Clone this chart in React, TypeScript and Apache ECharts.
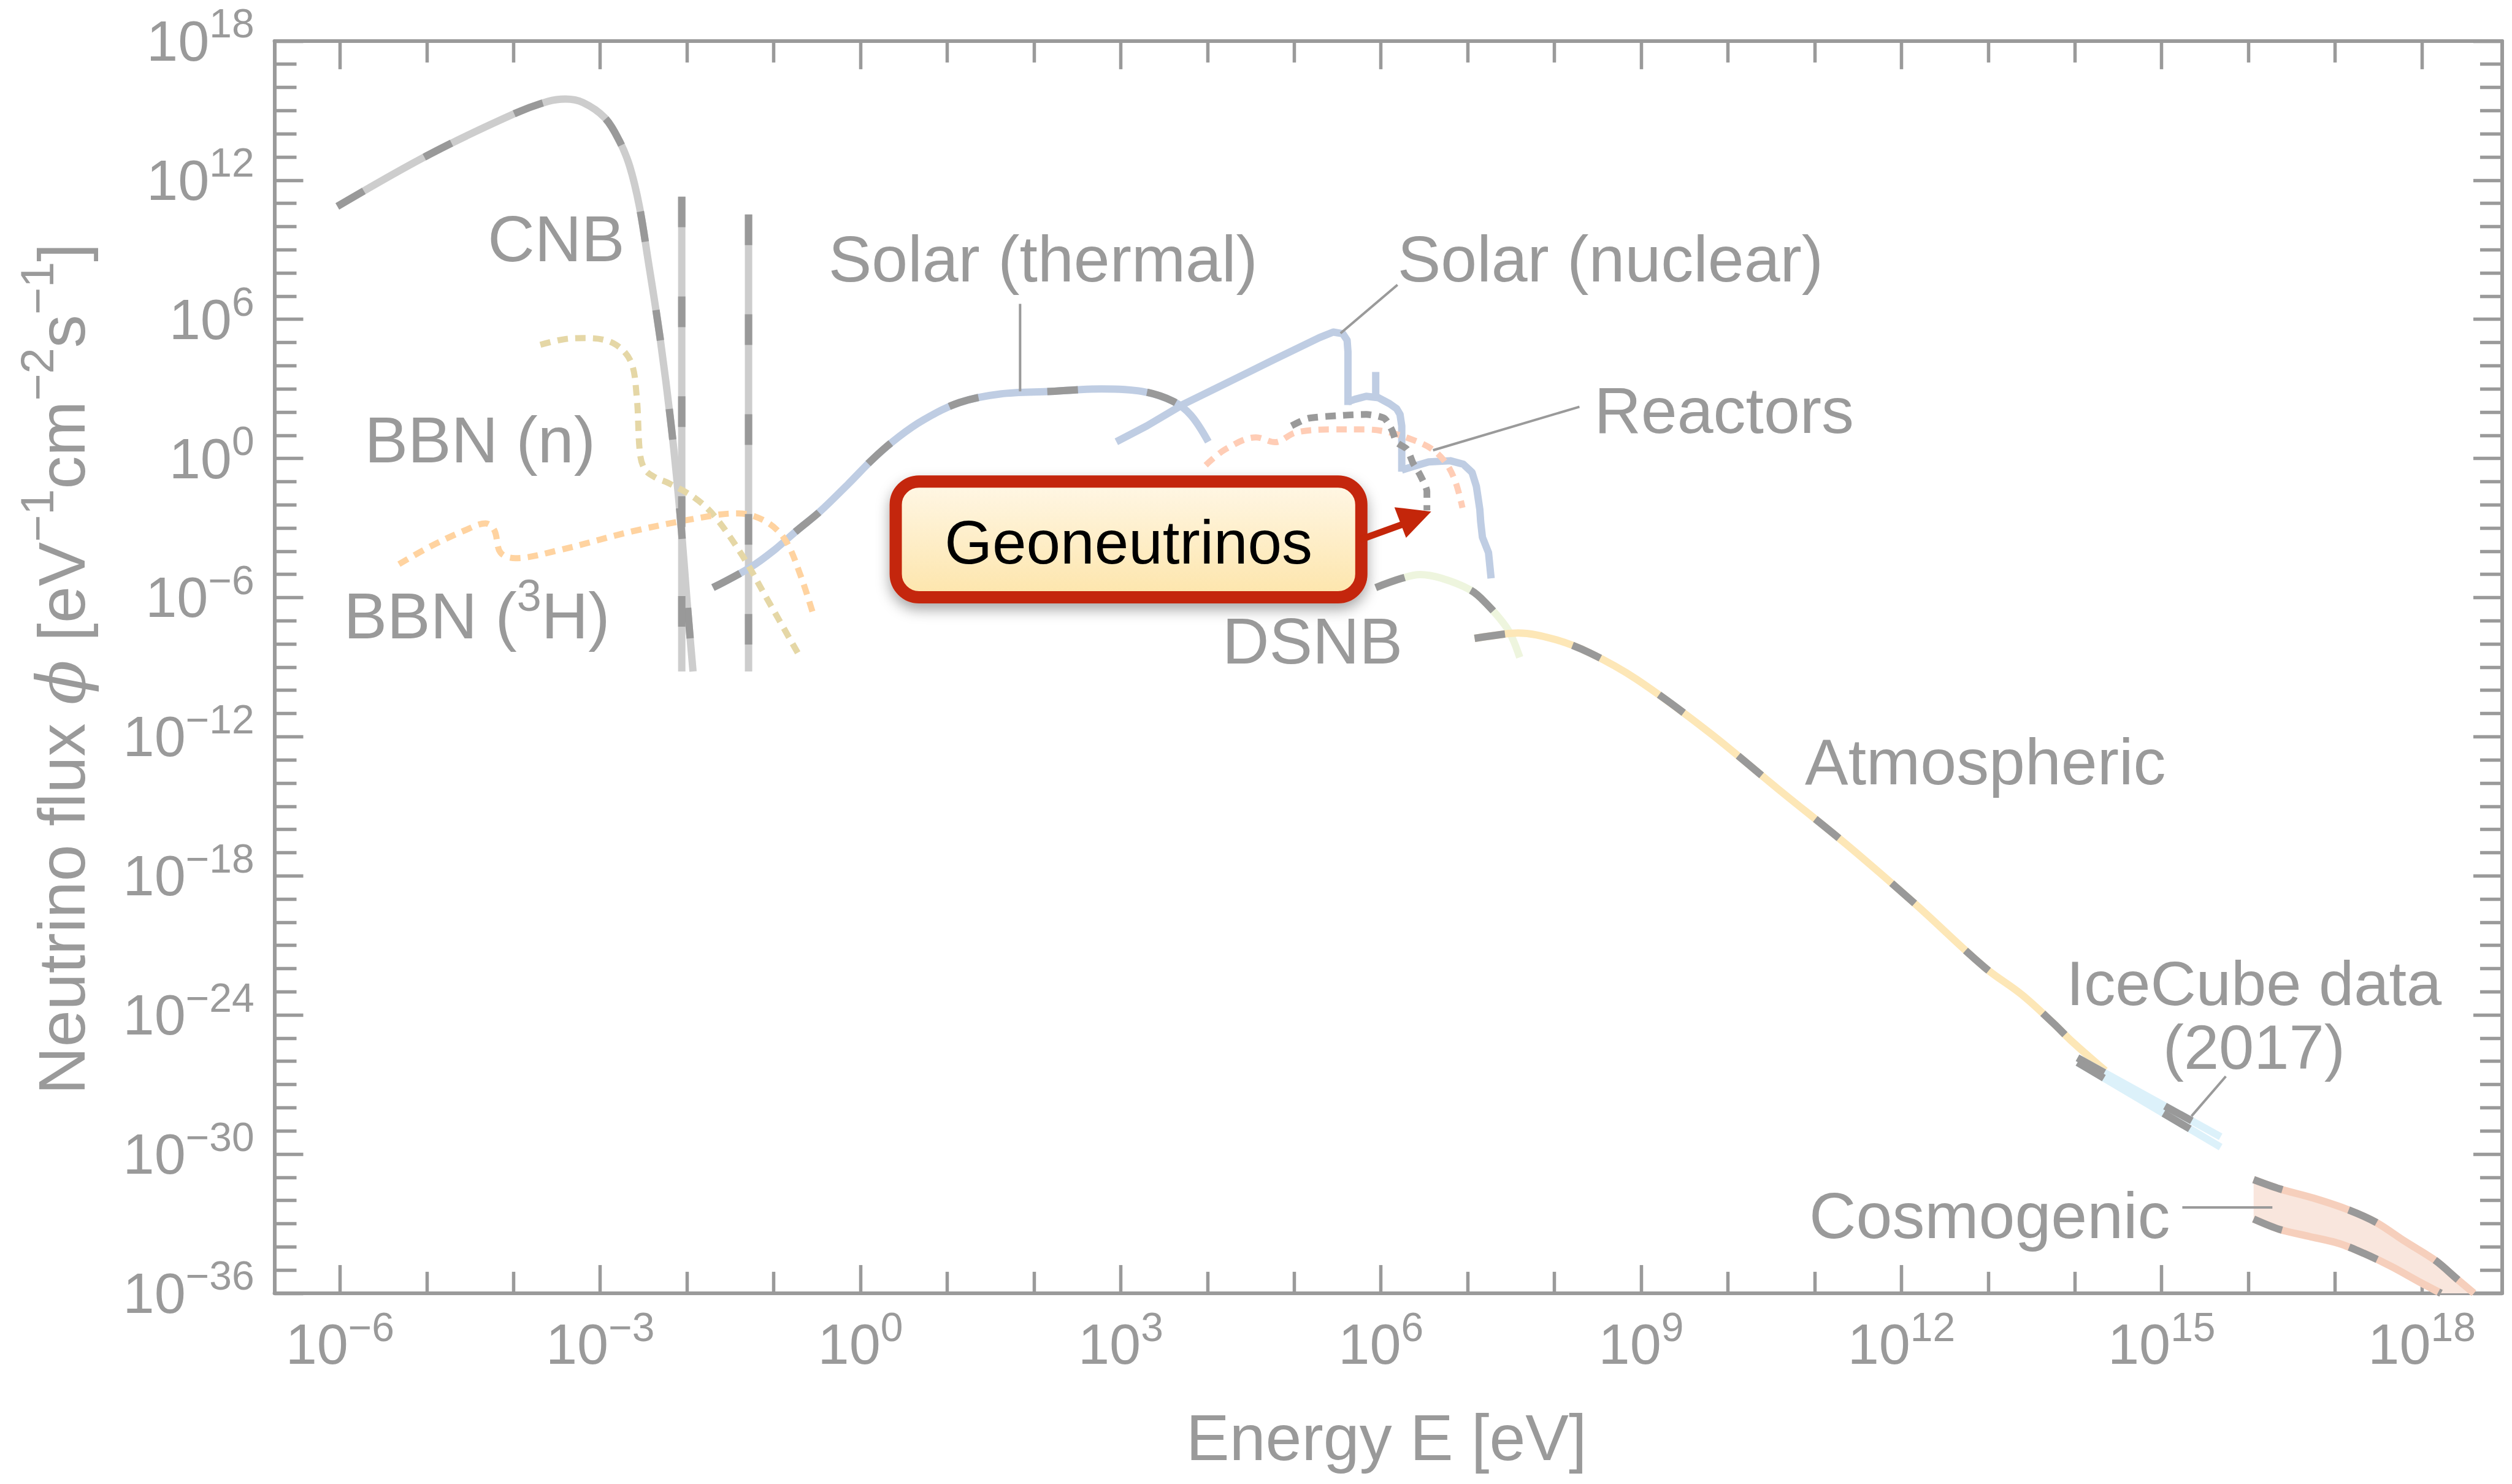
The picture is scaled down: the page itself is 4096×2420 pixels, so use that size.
import React, { useEffect, useRef } from "react";
import * as echarts from "echarts";

const S = 0.999;
const px = (v: number) => v * S;

const GRAY = "#9a9a9a";
const FONT = "'Liberation Sans', Arial, Helvetica, sans-serif";

// ---- axes (values are log10 of energy [eV] and log10 of flux) ----
const X_MIN = -6.755;
const X_MAX = 18.925;
const Y_MIN = -36;
const Y_MAX = 18;
const xMajorTicks = [-6, -3, 0, 3, 6, 9, 12, 15, 18];
const xMinorTicks = [-5, -4, -2, -1, 1, 2, 4, 5, 7, 8, 10, 11, 13, 14, 16, 17];
const yMajorTicks = [-36, -30, -24, -18, -12, -6, 0, 6, 12, 18];
const yMinorTicks = [
  -35, -34, -33, -32, -31, -29, -28, -27, -26, -25, -23, -22, -21, -20, -19, -17, -16, -15, -14, -13,
  -11, -10, -9, -8, -7, -5, -4, -3, -2, -1, 1, 2, 3, 4, 5, 7, 8, 9, 10, 11, 13, 14, 15, 16, 17,
];

// ---- data: log10 E [eV], log10 flux ----
const cnbE = [-6.03, -5.0, -4.0, -3.6, -3.4, -3.2, -2.95, -2.78, -2.66, -2.55, -2.45, -2.31, -2.18, -2.08, -1.99, -1.93];
const cnbF = [10.87, 13.05, 14.85, 15.4, 15.5, 15.35, 14.7, 13.7, 12.6, 10.9, 8.6, 5.2, 1.36, -2.37, -6.57, -9.19];
const cnbLine1E = [-2.06, -2.06];
const cnbLine1F = [11.29, -9.19];
const cnbLine2E = [-1.29, -1.29];
const cnbLine2F = [10.52, -9.19];

const bbnNE = [-3.69, -3.4, -3.16, -2.85, -2.65, -2.58, -2.54, -2.48, -2.35, -2.22, -1.91, -1.68, -1.36, -1.1, -0.69];
const bbnNF = [4.9, 5.15, 5.19, 4.97, 4.2, 2.7, 0.17, -0.5, -0.85, -1.05, -1.7, -2.5, -4.2, -5.9, -8.6];

const bbnHE = [-5.32, -4.96, -4.56, -4.32, -4.22, -4.15, -3.98, -3.48, -2.58, -1.68, -1.41, -1.1, -0.87, -0.69, -0.53];
const bbnHF = [-4.56, -3.8, -3.1, -2.8, -3.1, -4.06, -4.3, -3.96, -3.1, -2.45, -2.37, -2.7, -3.5, -5.05, -6.9];

const solarThE = [-1.7, -1.27, -1.0, -0.73, -0.47, -0.14, 0.15, 0.44, 0.73, 1.14, 1.61, 2.2, 2.78, 3.25, 3.6, 3.81, 4.01];
const solarThF = [-5.57, -4.7, -3.97, -3.1, -2.3, -1.1, 0.0, 0.93, 1.67, 2.41, 2.78, 2.89, 3.0, 2.89, 2.47, 1.86, 0.72];

const solarPpE = [2.95, 3.3, 3.72, 4.21, 4.75, 5.29, 5.45, 5.56, 5.61, 5.62, 5.62];
const solarPpF = [0.72, 1.4, 2.33, 3.23, 4.23, 5.21, 5.45, 5.38, 5.1, 4.6, 2.3];
const solarCnoE = [5.62, 5.7, 5.83, 5.97, 6.1, 6.18, 6.22, 6.24, 6.24];
const solarCnoF = [2.45, 2.55, 2.68, 2.62, 2.36, 2.15, 1.9, 1.4, -0.57];
const solarBeE = [5.94, 5.94];
const solarBeF = [2.62, 3.73];
const solarB8E = [6.24, 6.37, 6.55, 6.8, 6.95, 7.05, 7.1, 7.14, 7.15, 7.17, 7.24, 7.27];
const solarB8F = [-0.5, -0.35, -0.15, -0.1, -0.25, -0.6, -1.2, -2.2, -2.74, -3.4, -4.06, -5.17];

const reactE = [3.98, 4.21, 4.56, 4.78, 5.02, 5.43, 5.83, 6.1, 6.37, 6.59, 6.75, 6.86, 6.94];
const reactF = [-0.29, 0.4, 0.91, 0.7, 1.12, 1.25, 1.25, 1.12, 0.8, 0.4, -0.2, -1.02, -2.13];

const geoE = [4.97, 5.16, 5.56, 5.83, 6.04, 6.13, 6.18, 6.3, 6.37, 6.45, 6.53, 6.53];
const geoF = [1.41, 1.73, 1.86, 1.9, 1.73, 1.2, 0.7, 0.4, -0.2, -0.7, -1.42, -2.24];

const dsnbE = [5.94, 6.24, 6.45, 6.7, 7.03, 7.2, 7.46, 7.6];
const dsnbF = [-5.57, -5.17, -5.01, -5.17, -5.67, -6.2, -7.36, -8.58];

const atmoE = [7.08, 7.41, 7.58, 8.0, 8.41, 8.95, 9.79, 10.58, 11.38, 12.17, 12.96, 13.38, 13.75, 13.96, 14.35];
const atmoF = [-7.76, -7.58, -7.53, -7.8, -8.39, -9.53, -11.83, -14.26, -16.69, -19.25, -21.95, -23.1, -24.35, -25.12, -26.4];

const iceUpperE = [14.03, 15.68];
const iceUpperF = [-25.85, -29.25];
const iceLowerE = [14.03, 15.68];
const iceLowerF = [-26.05, -29.7];

const cosmoUpperE = [16.06, 16.36, 16.75, 17.15, 17.48, 17.8, 18.16, 18.4, 18.6];
const cosmoUpperF = [-31.1, -31.5, -31.9, -32.4, -32.96, -33.75, -34.6, -35.37, -36.0];
const cosmoLowerE = [16.06, 16.36, 16.7, 17.05, 17.33, 17.65, 17.98, 18.22];
const cosmoLowerF = [-32.8, -33.25, -33.55, -33.86, -34.28, -34.85, -35.53, -36.0];

// ---- colours ----
const DASH = "#999999";
const CNB_LIGHT = "#cdcdcd";
const SOLAR = "#bfcde3";
const BBN_N = "#e5d7a6";
const BBN_H = "#ffd3a0";
const REACT = "#ffcdb6";
const GEO = "#9a9a9a";
const DSNB_LIGHT = "#eef5de";
const ATMO = "#fde7b7";
const ICE = "#dcf1fa";
const COSMO_EDGE = "#f6cfbc";
const COSMO_FILL = "#f9e6dd";
const RED = "#c4260a";

const DASHED = [px(50), px(113)];
const DOTTED = [px(17), px(12)];

const zip = (xs: number[], ys: number[]) => xs.map((x, i) => [x, ys[i]]);

function curve(xs: number[], ys: number[], color: string, width: number, type: any, smooth: number | boolean, z: number) {
  return {
    type: "line",
    data: zip(xs, ys),
    symbol: "none",
    showSymbol: false,
    smooth,
    silent: true,
    clip: true,
    z,
    lineStyle: { color, width: px(width), type, cap: "butt", join: "round" },
  };
}

function twoTone(xs: number[], ys: number[], light: string, smooth: number | boolean) {
  return [curve(xs, ys, light, 12, "solid", smooth, 2), curve(xs, ys, DASH, 12, DASHED, smooth, 5)];
}

const powLabel = (v: number) => `{m|10}{s|${v < 0 ? "\u2212" + Math.abs(v) : String(v)}}`;
const richTick = {
  m: { fontSize: px(92), fontFamily: FONT, color: GRAY, lineHeight: px(123) },
  s: { fontSize: px(66), fontFamily: FONT, color: GRAY, lineHeight: px(123), padding: [0, 0, px(57), 0] },
};
const axisLineStyle = { color: GRAY, width: px(6) };
const tickStyle = { color: GRAY, width: px(5.5) };

function makeAxis(kind: "x" | "y", position: string, ticks: number[], length: number, showLine: boolean, labels: boolean) {
  return {
    type: "value",
    min: kind === "x" ? X_MIN : Y_MIN,
    max: kind === "x" ? X_MAX : Y_MAX,
    position,
    axisLine: { show: showLine, onZero: false, lineStyle: axisLineStyle },
    axisTick: { show: true, inside: true, length: px(length), lineStyle: tickStyle, customValues: ticks },
    axisLabel: labels
      ? { show: true, customValues: ticks, formatter: powLabel, margin: px(kind === "x" ? 22 : 33), rich: richTick, color: GRAY }
      : { show: false },
    splitLine: { show: false },
    minorTick: { show: false },
  };
}

function label(text: string, x: number, baseline: number, opts: any = {}) {
  const size = opts.size ?? 106;
  return {
    type: "text",
    x: px(x),
    y: px(baseline - 0.3465 * size),
    z: opts.z ?? 50,
    silent: true,
    style: {
      text,
      fontSize: px(size),
      fontFamily: FONT,
      fill: opts.fill ?? GRAY,
      align: opts.align ?? "left",
      textAlign: opts.align ?? "left",
      verticalAlign: "middle",
      textVerticalAlign: "middle",
      rich: opts.rich,
    },
  };
}

function leader(x1: number, y1: number, x2: number, y2: number) {
  return {
    type: "line",
    z: 50,
    silent: true,
    shape: { x1: px(x1), y1: px(y1), x2: px(x2), y2: px(y2) },
    style: { stroke: GRAY, lineWidth: px(4) },
  };
}

function buildOption() {
  const series: any[] = [
    {
      type: "custom",
      data: [[17, -33]],
      silent: true,
      z: 1,
      renderItem: (_p: any, api: any) => {
        const pts = zip(cosmoUpperE, cosmoUpperF)
          .concat(zip(cosmoLowerE, cosmoLowerF).reverse())
          .map((p) => api.coord(p));
        return { type: "polygon", shape: { points: pts }, style: { fill: COSMO_FILL } };
      },
    },
    ...twoTone(cnbE, cnbF, CNB_LIGHT, 0.35),
    ...twoTone(cnbLine1E, cnbLine1F, CNB_LIGHT, false),
    ...twoTone(cnbLine2E, cnbLine2F, CNB_LIGHT, false),
    curve(bbnNE, bbnNF, BBN_N, 10, DOTTED, 0.35, 3),
    curve(bbnHE, bbnHF, BBN_H, 10, DOTTED, 0.35, 3),
    ...twoTone(solarThE, solarThF, SOLAR, 0.35),
    curve(solarPpE, solarPpF, SOLAR, 12, "solid", false, 2),
    curve(solarCnoE, solarCnoF, SOLAR, 12, "solid", false, 2),
    curve(solarBeE, solarBeF, SOLAR, 12, "solid", false, 2),
    curve(solarB8E, solarB8F, SOLAR, 12, "solid", false, 2),
    curve(reactE, reactF, REACT, 10, DOTTED, 0.35, 3),
    curve(geoE, geoF, GEO, 11, DOTTED, 0.2, 4),
    ...twoTone(dsnbE, dsnbF, DSNB_LIGHT, 0.35),
    ...twoTone(atmoE, atmoF, ATMO, 0.35),
    ...twoTone(iceUpperE, iceUpperF, ICE, false),
    ...twoTone(iceLowerE, iceLowerF, ICE, false),
    ...twoTone(cosmoUpperE, cosmoUpperF, COSMO_EDGE, 0.3),
    ...twoTone(cosmoLowerE, cosmoLowerF, COSMO_EDGE, 0.3),
  ];

  const supRich = (main: number, sup: number, raise: number) => ({
    m: { fontSize: px(main), fontFamily: FONT, fill: GRAY },
    s: { fontSize: px(sup), fontFamily: FONT, fill: GRAY, padding: [0, 0, px(raise * 2), 0] },
    p: { fontSize: px(main), fontFamily: "'DejaVu Serif', 'Liberation Serif', serif", fontStyle: "italic", fill: GRAY },
  });

  const graphics: any[] = [
    label("CNB", 796, 426),
    label("BBN (n)", 595, 754),
    label("{m|BBN (}{s|3}{m|H)}", 561, 1042, { rich: supRich(106, 72, 33) }),
    label("Solar (thermal)", 1352, 459),
    label("Solar (nuclear)", 2281, 459),
    label("Reactors", 2602, 706),
    label("DSNB", 1995, 1083),
    label("Atmospheric", 2946, 1280),
    // two-line label: centred block between the two baselines
    {
      type: "text",
      x: px(3679),
      y: px((1644 + 1741) / 2 - 0.3465 * 103),
      z: 50,
      silent: true,
      style: {
        text: "IceCube data\n(2017)",
        fontSize: px(103),
        fontFamily: FONT,
        fill: GRAY,
        lineHeight: px(104),
        align: "center",
        textAlign: "center",
        verticalAlign: "middle",
        textVerticalAlign: "middle",
      },
    },
    label("Cosmogenic", 2953, 2021),
    leader(1665, 496, 1665, 639),
    leader(2281, 465, 2188, 544),
    leader(2578, 664, 2339, 735),
    leader(3577, 1822, 3633, 1757),
    leader(3562, 1971, 3709, 1971),
    // x-axis title
    label("Energy E [eV]", 2263, 2383, { align: "center" }),
    // y-axis title (rotated)
    {
      type: "text",
      x: px(101),
      y: px(1092),
      rotation: Math.PI / 2,
      z: 50,
      silent: true,
      style: {
        text: "{m|Neutrino flux }{p|\u03d5}{m| [eV}{s|\u22121}{m|cm}{s|\u22122}{m|s}{s|\u22121}{m|]}",
        fontSize: px(108),
        fontFamily: FONT,
        fill: GRAY,
        align: "center",
        textAlign: "center",
        verticalAlign: "middle",
        textVerticalAlign: "middle",
        rich: supRich(108, 76, 40),
      },
    },
    // Geoneutrinos call-out
    {
      type: "rect",
      z: 60,
      silent: true,
      shape: { x: px(1462), y: px(786), width: px(760), height: px(189), r: px(38) },
      style: {
        fill: new echarts.graphic.LinearGradient(0, 0, 0, 1, [
          { offset: 0, color: "#fff7e6" },
          { offset: 1, color: "#fde5ab" },
        ]),
        stroke: RED,
        lineWidth: px(20),
        shadowBlur: px(22),
        shadowColor: "rgba(0,0,0,0.35)",
        shadowOffsetY: px(10),
      },
    },
    label("Geoneutrinos", 1842, 920, { align: "center", size: 100, fill: "#000000", z: 70 }),
    {
      type: "line",
      z: 61,
      silent: true,
      shape: { x1: px(2220), y1: px(881), x2: px(2292), y2: px(855) },
      style: { stroke: RED, lineWidth: px(11) },
    },
    {
      type: "polygon",
      z: 61,
      silent: true,
      shape: { points: [[px(2276), px(828)], [px(2295), px(878)], [px(2336), px(835)]] },
      style: { fill: RED },
    },
  ];

  return {
    animation: false,
    backgroundColor: "#ffffff",
    grid: { left: px(448), top: px(67), width: px(3636), height: px(2044), containLabel: false },
    xAxis: [
      makeAxis("x", "bottom", xMajorTicks, 46, true, true),
      makeAxis("x", "bottom", xMinorTicks, 35, false, false),
      makeAxis("x", "top", xMajorTicks, 46, true, false),
      makeAxis("x", "top", xMinorTicks, 35, false, false),
    ],
    yAxis: [
      makeAxis("y", "left", yMajorTicks, 47, true, true),
      makeAxis("y", "left", yMinorTicks, 36, false, false),
      makeAxis("y", "right", yMajorTicks, 47, true, false),
      makeAxis("y", "right", yMinorTicks, 36, false, false),
    ],
    series,
    graphic: { elements: graphics },
  };
}

export default function App() {
  const ref = useRef<HTMLDivElement>(null);
  useEffect(() => {
    document.body.style.margin = "0";
    const chart = echarts.init(ref.current!, null, { renderer: "svg" });
    chart.setOption(buildOption() as any);
    return () => chart.dispose();
  }, []);
  return (
    <div
      ref={ref}
      style={{ position: "fixed", left: 0, top: 0, width: 4096, height: 2420, background: "#ffffff" }}
    />
  );
}
